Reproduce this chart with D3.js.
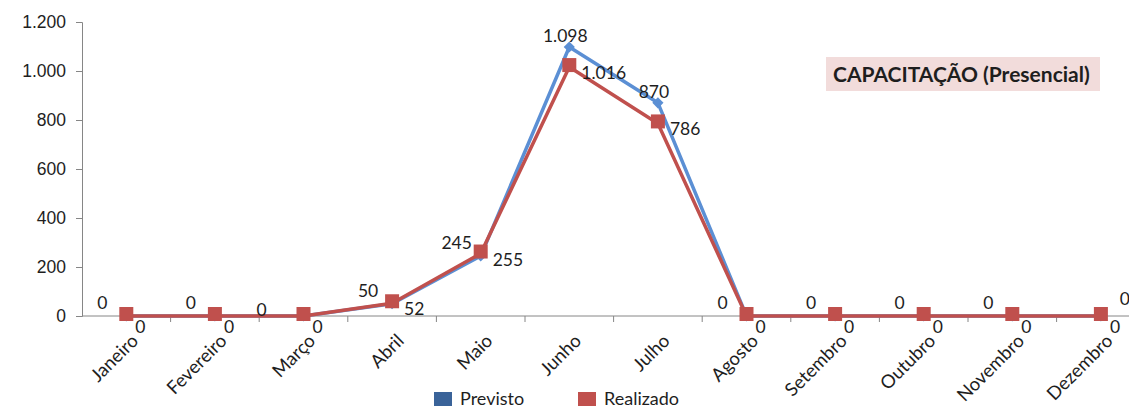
<!DOCTYPE html>
<html>
<head>
<meta charset="utf-8">
<script src="https://cdn.jsdelivr.net/npm/d3@7"></script>
<style>
  html, body { margin: 0; padding: 0; background: #fff; overflow: hidden; }
  svg { display: block; font-family: Lato, "Open Sans", sans-serif; }
</style>
</head>
<body>
<div id="chart"></div>
<script>
// Capacitação presencial — previsto x realizado por mês
var months = ["Janeiro", "Fevereiro", "Março", "Abril", "Maio", "Junho",
              "Julho", "Agosto", "Setembro", "Outubro", "Novembro", "Dezembro"];
var previsto  = [0, 0, 0, 50, 245, 1098, 870, 0, 0, 0, 0, 0];
var realizado = [0, 0, 0, 52, 255, 1016, 786, 0, 0, 0, 0, 0];
var yTicks = [0, 200, 400, 600, 800, 1000, 1200];

// where each Previsto label sits relative to its point (Excel-style manual placement)
var previstoPlace = ["left", "left", "mid", "left", "left", "above",
                     "above", "left", "left", "left", "left", "right"];

var W = 1129, H = 409;
var left = 82, zeroY = 316, topY = 22, step = 88.6;

var svg = d3.select("#chart").append("svg")
    .attr("width", W)
    .attr("height", H);

var x = d3.scaleBand().domain(months).range([left, left + step * months.length]);
var y = d3.scaleLinear().domain([0, 1200]).range([zeroY, topY]);
var cx = function (m) { return x(m) + x.bandwidth() / 2; };

var ptBR = d3.formatLocale({ decimal: ",", thousands: ".", grouping: [3], currency: ["R$", ""] });
var fmt = ptBR.format(",d");

var axisColor = "#868686", textColor = "#1e1e1e";

// Y axis
var yAxis = svg.append("g")
    .attr("transform", "translate(" + left + ",0)")
    .call(d3.axisLeft(y).tickValues(yTicks).tickFormat(fmt).tickSize(6).tickPadding(10));
yAxis.select(".domain").attr("stroke", axisColor);
yAxis.selectAll(".tick line").attr("stroke", axisColor);
yAxis.selectAll("text").attr("font-size", 17.5).attr("fill", textColor);

// X axis (ticks between categories)
var xg = svg.append("g").attr("transform", "translate(0," + zeroY + ")");
xg.append("line")
    .attr("x1", left).attr("x2", W)
    .attr("stroke", axisColor);
xg.selectAll("line.tk")
    .data(months)
    .enter().append("line")
    .attr("class", "tk")
    .attr("x1", function (m) { return x(m) + x.bandwidth(); })
    .attr("x2", function (m) { return x(m) + x.bandwidth(); })
    .attr("y1", 0).attr("y2", 6)
    .attr("stroke", axisColor);
xg.selectAll("text")
    .data(months)
    .enter().append("text")
    .attr("transform", function (m) {
        return "translate(" + (cx(m) + 13) + ",26) rotate(-45)";
    })
    .attr("text-anchor", "end")
    .attr("font-size", 18.5)
    .attr("fill", textColor)
    .text(function (m) { return m; });

// Lines
var blue = "#5b8fd4", blueDark = "#3a6399", red = "#c0504d";

var line = function (vals) {
    return d3.line()
        .x(function (d, i) { return cx(months[i]); })
        .y(function (d) { return y(d); })(vals);
};

svg.append("path")
    .attr("d", line(previsto))
    .attr("fill", "none")
    .attr("stroke", blue)
    .attr("stroke-width", 3.5)
    .attr("stroke-linejoin", "round");

svg.selectAll("path.diamond")
    .data(previsto)
    .enter().append("path")
    .attr("class", "diamond")
    .attr("d", d3.symbol(d3.symbolDiamond2, 80))
    .attr("transform", function (d, i) { return "translate(" + cx(months[i]) + "," + y(d) + ")"; })
    .attr("fill", blue);

svg.append("path")
    .attr("d", line(realizado))
    .attr("fill", "none")
    .attr("stroke", red)
    .attr("stroke-width", 3.5)
    .attr("stroke-linejoin", "round");

svg.selectAll("rect.sq")
    .data(realizado)
    .enter().append("rect")
    .attr("class", "sq")
    .attr("x", function (d, i) { return cx(months[i]) - 7; })
    .attr("y", function (d) { return y(d) - 9; })
    .attr("width", 14)
    .attr("height", 14)
    .attr("fill", red);

// Data labels
var labelOffset = {
    left:  { dx: -24, dy: -7 },
    mid:   { dx: -42, dy: 0 },
    above: { dx: -4,  dy: -5 },
    right: { dx: 24,  dy: -11 }
};

svg.selectAll("text.lp")
    .data(previsto)
    .enter().append("text")
    .attr("class", "lp")
    .each(function (d, i) {
        var o = labelOffset[previstoPlace[i]];
        d3.select(this)
            .attr("x", cx(months[i]) + o.dx)
            .attr("y", y(d) + o.dy);
    })
    .attr("text-anchor", "middle")
    .attr("font-size", 17.5)
    .attr("fill", textColor)
    .text(function (d) { return fmt(d); });

svg.selectAll("text.lr")
    .data(realizado)
    .enter().append("text")
    .attr("class", "lr")
    .attr("x", function (d, i) { return cx(months[i]) + (d > 0 ? 12 : 9); })
    .attr("y", function (d) { return y(d) + (d > 0 ? 12 : 17); })
    .attr("text-anchor", "start")
    .attr("font-size", 17.5)
    .attr("fill", textColor)
    .text(function (d) { return fmt(d); });

// Title box
var title = svg.append("g").attr("transform", "translate(826,57)");
title.append("rect")
    .attr("width", 274).attr("height", 34)
    .attr("fill", "#f2dcdb");
title.append("text")
    .attr("x", 7).attr("y", 25)
    .attr("font-size", 21)
    .attr("font-weight", "bold")
    .attr("fill", textColor)
    .text("CAPACITAÇÃO (Presencial)");

// Legend
var legendItems = [
    { name: "Previsto", color: blueDark, x: 434 },
    { name: "Realizado", color: red, x: 578 }
];
var lg = svg.selectAll("g.legend")
    .data(legendItems)
    .enter().append("g")
    .attr("class", "legend")
    .attr("transform", function (d) { return "translate(" + d.x + ",392)"; });
lg.append("rect")
    .attr("width", 18).attr("height", 14)
    .attr("fill", function (d) { return d.color; });
lg.append("text")
    .attr("x", 26).attr("y", 13)
    .attr("font-size", 18)
    .attr("fill", textColor)
    .text(function (d) { return d.name; });
</script>
</body>
</html>
